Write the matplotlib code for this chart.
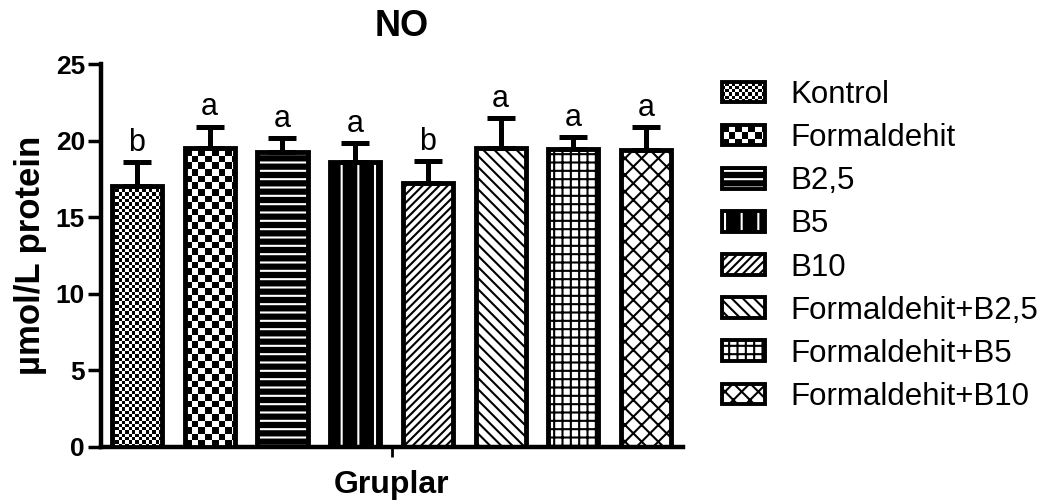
import numpy as np
import matplotlib
matplotlib.use("Agg")
import matplotlib.pyplot as plt
from matplotlib.patches import Rectangle
from matplotlib.legend_handler import HandlerBase

plt.rcParams['font.family'] = ['Liberation Sans', 'DejaVu Sans']
plt.rcParams['hatch.linewidth'] = 1.5

# ---- data ----
groups = ['Kontrol', 'Formaldehit', 'B2,5', 'B5', 'B10',
          'Formaldehit+B2,5', 'Formaldehit+B5', 'Formaldehit+B10']
means = [17.06, 19.53, 19.27, 18.58, 17.21, 19.49, 19.45, 19.38]
sems = [1.56, 1.39, 0.91, 1.24, 1.48, 1.99, 0.80, 1.48]
letters = ['b', 'a', 'a', 'a', 'b', 'a', 'a', 'a']
yticks = [0, 5, 10, 15, 20, 25]

# ---- styles (fill patterns) ----
styles = [
    dict(kind='checker', sq=3.3),
    dict(kind='checker', sq=6.6),
    dict(kind='hatch', face='black', hcolor='white', hatch='--'),
    dict(kind='hatch', face='black', hcolor='white', hatch='|'),
    dict(kind='hatch', face='white', hcolor='black', hatch='////'),
    dict(kind='hatch', face='white', hcolor='black', hatch='\\\\\\'),
    dict(kind='hatch', face='white', hcolor='black', hatch='++'),
    dict(kind='hatch', face='white', hcolor='black', hatch='xx'),
]

W, H, DPI = 1051, 504, 100
fig = plt.figure(figsize=(W / DPI, H / DPI), dpi=DPI)
ax = fig.add_axes([101 / W, 1 - 447 / H, 582 / W, 383 / H])

x = np.arange(len(groups))
bw = 0.69
ax.set_xlim(-0.4945, 7.508)
ax.set_ylim(0, 25)

# base fills
base = ax.bar(x, means, bw, linewidth=0, zorder=2)
for b, st in zip(base, styles):
    if st['kind'] == 'hatch':
        b.set_facecolor(st['face'])
        b.set_edgecolor(st['hcolor'])
        b.set_hatch(st['hatch'])
    else:
        b.set_facecolor('white')
        b.set_edgecolor('white')

# checkerboard fills (clipped to bars)
px_per_x = ax.transData.transform((1, 0))[0] - ax.transData.transform((0, 0))[0]
px_per_y = ax.transData.transform((0, 1))[1] - ax.transData.transform((0, 0))[1]
for b, st, xi, m in zip(base, styles, x, means):
    if st['kind'] != 'checker':
        continue
    sq = st['sq']
    bar_px_w = bw * px_per_x
    ncols = int(np.ceil(bar_px_w / sq))
    nrows = int(np.ceil(m * px_per_y / sq))
    arr = (np.indices((nrows, ncols)).sum(axis=0) % 2).astype(float)
    x0 = xi - bw / 2
    ext = (x0, x0 + ncols * sq / px_per_x, 0, nrows * sq / px_per_y)
    im = ax.imshow(arr, extent=ext, origin='lower', cmap='gray', vmin=0, vmax=1,
                   interpolation='nearest', aspect='auto', zorder=3)
    im.set_clip_path(b)

# outlines
ax.bar(x, means, bw, fill=False, edgecolor='black', linewidth=3.5, zorder=4)

# error bars (upper only)
ax.errorbar(x, means, yerr=[np.zeros(len(sems)), sems], fmt='none', ecolor='black',
            elinewidth=3.6, capsize=10, capthick=3.6, zorder=5)

# letters
for xi, m, s, L in zip(x, means, sems, letters):
    ax.annotate(L, (xi, m + s), xytext=(0, 8), textcoords='offset points',
                ha='center', va='baseline', fontsize=22)

ax.set_xlim(-0.4945, 7.508)
ax.set_ylim(0, 25)

# axes styling
for sp in ['top', 'right']:
    ax.spines[sp].set_visible(False)
for sp in ['left', 'bottom']:
    ax.spines[sp].set_linewidth(3.2)
ax.set_yticks(yticks)
ax.set_yticklabels([str(t) for t in yticks], fontsize=19, fontweight='bold')
ax.tick_params(axis='y', length=9.5, width=2.5, pad=2)
ax.set_xticks([3.5])
ax.set_xticklabels([''])
ax.tick_params(axis='x', length=7, width=2)

ax.set_xlabel('Gruplar', fontsize=23, fontweight='bold', labelpad=6)
ax.set_ylabel('µmol/L protein', fontsize=25, fontweight='bold', labelpad=6)
ax.set_title('NO', fontsize=26, fontweight='bold', x=0.516, pad=20)


# ---- legend ----
class StyleHandler(HandlerBase):
    def __init__(self, st):
        super().__init__()
        self.st = st

    def create_artists(self, legend, orig_handle, xdescent, ydescent,
                       width, height, fontsize, trans):
        x0, y0 = -xdescent, -ydescent
        arts = []
        st = self.st
        if st['kind'] == 'hatch':
            r = Rectangle((x0, y0), width, height, facecolor=st['face'],
                          edgecolor=st['hcolor'], hatch=st['hatch'], linewidth=0)
            arts.append(r)
        else:
            arts.append(Rectangle((x0, y0), width, height, facecolor='white',
                                  edgecolor='none', linewidth=0))
            s = st['sq'] * 72 / DPI
            nc = int(np.ceil(width / s))
            nr = int(np.ceil(height / s))
            for i in range(nr):
                for j in range(nc):
                    if (i + j) % 2 == 0:
                        w = min(s, width - j * s)
                        h = min(s, height - i * s)
                        arts.append(Rectangle((x0 + j * s, y0 + i * s), w, h,
                                              facecolor='black', edgecolor='none',
                                              linewidth=0))
        arts.append(Rectangle((x0, y0), width, height, fill=False,
                              edgecolor='black', linewidth=2.8))
        for a in arts:
            a.set_transform(trans)
        return arts


handles = [Rectangle((0, 0), 1, 1) for _ in groups]
hmap = {h: StyleHandler(st) for h, st in zip(handles, styles)}
fs_leg = 22.5
fs_px = fs_leg * DPI / 72
fig.legend(handles, groups, handler_map=hmap, loc='upper left',
           bbox_to_anchor=(722 / W, 1 - 80 / H), bbox_transform=fig.transFigure,
           frameon=False, fontsize=fs_leg, handlelength=43 / fs_px,
           handleheight=20 / fs_px, handletextpad=25 / fs_px,
           labelspacing=0.42, borderpad=0, borderaxespad=0)

fig.savefig('out.png', dpi=DPI)
